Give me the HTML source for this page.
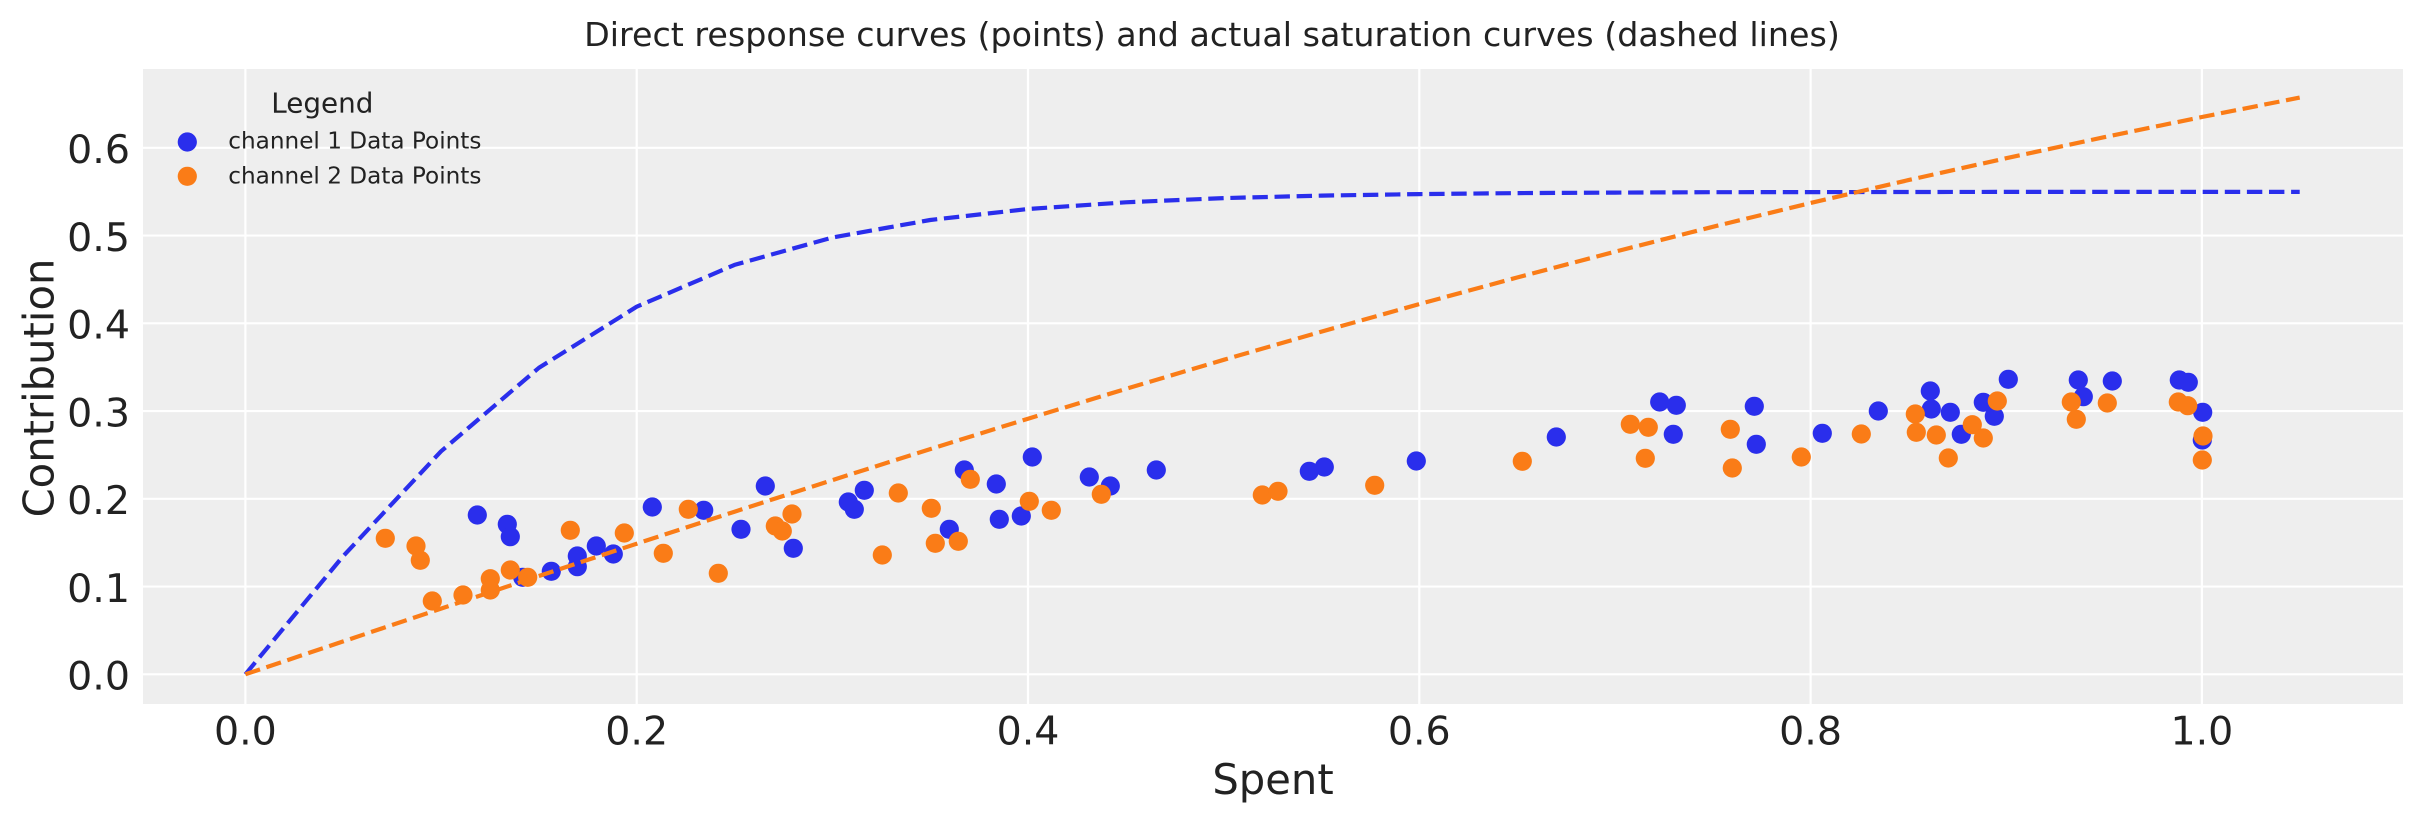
<!DOCTYPE html>
<html>
<head>
<meta charset="utf-8">
<style>
  html, body { margin:0; padding:0; background:#ffffff; }
  body { width:2423px; height:823px; overflow:hidden; }
  svg { display:block; }
  text { font-family: "DejaVu Sans", "Liberation Sans", sans-serif; fill:#222222; }
</style>
</head>
<body>
<svg width="2423" height="823" viewBox="0 0 2423 823" xmlns="http://www.w3.org/2000/svg">
  <rect x="0" y="0" width="2423" height="823" fill="#ffffff"/>
  <!-- axes background -->
  <rect x="143" y="69" width="2260" height="635" fill="#eeeeee"/>
  <!-- grid -->
  <g stroke="#ffffff" stroke-width="2.2">
    <line x1="245.4" y1="69" x2="245.4" y2="704"/>
    <line x1="636.7" y1="69" x2="636.7" y2="704"/>
    <line x1="1028.0" y1="69" x2="1028.0" y2="704"/>
    <line x1="1419.3" y1="69" x2="1419.3" y2="704"/>
    <line x1="1810.6" y1="69" x2="1810.6" y2="704"/>
    <line x1="2201.9" y1="69" x2="2201.9" y2="704"/>
    <line x1="143" y1="674.3" x2="2403" y2="674.3"/>
    <line x1="143" y1="586.55" x2="2403" y2="586.55"/>
    <line x1="143" y1="498.8" x2="2403" y2="498.8"/>
    <line x1="143" y1="411.05" x2="2403" y2="411.05"/>
    <line x1="143" y1="323.3" x2="2403" y2="323.3"/>
    <line x1="143" y1="235.55" x2="2403" y2="235.55"/>
    <line x1="143" y1="147.8" x2="2403" y2="147.8"/>
  </g>

  <!-- channel 1 scatter -->
  <g fill="#2a2eec">
    <circle cx="477.3" cy="515" r="9.6"/><circle cx="507.3" cy="524.3" r="9.6"/><circle cx="510.3" cy="536.7" r="9.6"/>
    <circle cx="522.7" cy="577.3" r="9.6"/><circle cx="551.3" cy="571.3" r="9.6"/><circle cx="577.3" cy="556" r="9.6"/>
    <circle cx="577.3" cy="566.7" r="9.6"/><circle cx="596.3" cy="546" r="9.6"/><circle cx="613.3" cy="554" r="9.6"/>
    <circle cx="652.3" cy="507" r="9.6"/><circle cx="703.7" cy="510.3" r="9.6"/><circle cx="741" cy="529.3" r="9.6"/>
    <circle cx="765.3" cy="486" r="9.6"/><circle cx="793.3" cy="548.3" r="9.6"/><circle cx="848.3" cy="502" r="9.6"/>
    <circle cx="854.3" cy="509.3" r="9.6"/><circle cx="864.3" cy="490.3" r="9.6"/><circle cx="964.3" cy="470" r="9.6"/>
    <circle cx="949.3" cy="529.3" r="9.6"/><circle cx="996.3" cy="484" r="9.6"/><circle cx="999.3" cy="519.3" r="9.6"/>
    <circle cx="1021.3" cy="516" r="9.6"/><circle cx="1032.3" cy="457" r="9.6"/><circle cx="1089.3" cy="477" r="9.6"/>
    <circle cx="1110.3" cy="486" r="9.6"/><circle cx="1156.3" cy="470" r="9.6"/>
    <circle cx="1309.3" cy="471.3" r="9.6"/><circle cx="1324.3" cy="467" r="9.6"/><circle cx="1416.3" cy="461" r="9.6"/>
    <circle cx="1556.3" cy="437" r="9.6"/><circle cx="1659.7" cy="402" r="9.6"/><circle cx="1676.3" cy="405.3" r="9.6"/>
    <circle cx="1673.3" cy="434.3" r="9.6"/><circle cx="1754.3" cy="406.3" r="9.6"/><circle cx="1756.3" cy="444.3" r="9.6"/>
    <circle cx="1822.3" cy="433.3" r="9.6"/><circle cx="1878.3" cy="411" r="9.6"/><circle cx="1930.3" cy="391" r="9.6"/>
    <circle cx="1931.3" cy="409" r="9.6"/><circle cx="1950.3" cy="412.3" r="9.6"/><circle cx="1961.3" cy="434.3" r="9.6"/>
    <circle cx="1983.3" cy="402.3" r="9.6"/><circle cx="1994.3" cy="416.3" r="9.6"/><circle cx="2008.3" cy="379.3" r="9.6"/>
    <circle cx="2078.3" cy="380" r="9.6"/><circle cx="2083.3" cy="396.7" r="9.6"/><circle cx="2112.3" cy="381" r="9.6"/>
    <circle cx="2179.3" cy="380" r="9.6"/><circle cx="2188.3" cy="382.3" r="9.6"/><circle cx="2202.7" cy="412.3" r="9.6"/>
    <circle cx="2202.3" cy="440" r="9.6"/>
  </g>

  <!-- channel 1 curve -->
  <polyline fill="none" stroke="#2a2eec" stroke-width="4.2" stroke-dasharray="15.4 6.7" stroke-linejoin="round"
    points="245.4,674.3 343.2,556.1 441.05,451.3 538.9,367.8 636.7,306.7 734.5,264.9 832.4,237.5 930.2,220.0 1028.0,209.0 1125.8,202.3 1223.7,198.1 1321.5,195.6 1419.3,194.1 1517.1,193.1 1615.0,192.6 1712.8,192.2 1810.6,192.1 1908.4,192.0 2006.3,191.9 2104.1,191.9 2201.9,191.9 2299.7,191.9"/>

  <!-- channel 2 scatter -->
  <g fill="#fa7c17">
    <circle cx="385.3" cy="538.3" r="9.6"/><circle cx="416" cy="546" r="9.6"/><circle cx="420.3" cy="560.3" r="9.6"/>
    <circle cx="432.3" cy="601" r="9.6"/><circle cx="463" cy="595" r="9.6"/><circle cx="490.3" cy="578.7" r="9.6"/>
    <circle cx="490.3" cy="590" r="9.6"/><circle cx="510.3" cy="570" r="9.6"/><circle cx="527.7" cy="577.3" r="9.6"/>
    <circle cx="570.3" cy="530.3" r="9.6"/><circle cx="624.3" cy="533" r="9.6"/><circle cx="663.3" cy="553.3" r="9.6"/>
    <circle cx="688.3" cy="509.3" r="9.6"/><circle cx="718.3" cy="573.3" r="9.6"/>
    <circle cx="775.3" cy="526" r="9.6"/><circle cx="782.3" cy="531" r="9.6"/><circle cx="792" cy="514" r="9.6"/>
    <circle cx="882.3" cy="555" r="9.6"/><circle cx="898.3" cy="493" r="9.6"/><circle cx="931.3" cy="508.3" r="9.6"/>
    <circle cx="935.3" cy="543.3" r="9.6"/><circle cx="958.3" cy="541.3" r="9.6"/><circle cx="970.3" cy="479.3" r="9.6"/>
    <circle cx="1029.3" cy="501.3" r="9.6"/><circle cx="1051.3" cy="510.3" r="9.6"/><circle cx="1101.3" cy="494.3" r="9.6"/>
    <circle cx="1262.3" cy="495" r="9.6"/>
    <circle cx="1278" cy="491.3" r="9.6"/><circle cx="1374.7" cy="485.3" r="9.6"/><circle cx="1522.3" cy="461.3" r="9.6"/>
    <circle cx="1630.3" cy="424.3" r="9.6"/><circle cx="1648.3" cy="427.3" r="9.6"/><circle cx="1645.3" cy="458.3" r="9.6"/>
    <circle cx="1730.3" cy="429.3" r="9.6"/><circle cx="1732.3" cy="468" r="9.6"/>
    <circle cx="1801.3" cy="457" r="9.6"/><circle cx="1861.3" cy="434" r="9.6"/><circle cx="1915.3" cy="414" r="9.6"/>
    <circle cx="1916.3" cy="432.3" r="9.6"/><circle cx="1936.3" cy="435" r="9.6"/><circle cx="1948.3" cy="458" r="9.6"/>
    <circle cx="1972.3" cy="424.7" r="9.6"/><circle cx="1983.3" cy="438" r="9.6"/><circle cx="1997.3" cy="401" r="9.6"/>
    <circle cx="2071.3" cy="402" r="9.6"/><circle cx="2076.3" cy="419.3" r="9.6"/><circle cx="2107.3" cy="403" r="9.6"/>
    <circle cx="2178.3" cy="402" r="9.6"/><circle cx="2187.7" cy="405.7" r="9.6"/><circle cx="2203" cy="436" r="9.6"/>
    <circle cx="2202.3" cy="460" r="9.6"/>
  </g>

  <!-- channel 2 curve -->
  <polyline fill="none" stroke="#fa7c17" stroke-width="4.2" stroke-dasharray="15.4 6.7" stroke-linejoin="round"
    points="245.4,674.3 343.2,641.4 441.05,608.6 538.9,576.0 636.7,543.7 734.5,511.7 832.4,480.1 930.2,449.1 1028.0,418.7 1125.8,388.9 1223.7,359.8 1321.5,331.6 1419.3,304.1 1517.1,277.5 1615.0,251.7 1712.8,226.8 1810.6,203.0 1908.4,180.1 2006.3,158.2 2104.1,137.2 2201.9,117.0 2299.7,97.6"/>

  <!-- y tick labels -->
  <g font-size="39.5" text-anchor="end">
    <text x="130" y="689.5">0.0</text>
    <text x="130" y="601.8">0.1</text>
    <text x="130" y="514.0">0.2</text>
    <text x="130" y="426.3">0.3</text>
    <text x="130" y="338.5">0.4</text>
    <text x="130" y="250.8">0.5</text>
    <text x="130" y="163.0">0.6</text>
  </g>
  <!-- x tick labels -->
  <g font-size="39.5" text-anchor="middle">
    <text x="245.4" y="744.3">0.0</text>
    <text x="636.7" y="744.3">0.2</text>
    <text x="1028.0" y="744.3">0.4</text>
    <text x="1419.3" y="744.3">0.6</text>
    <text x="1810.6" y="744.3">0.8</text>
    <text x="2201.9" y="744.3">1.0</text>
  </g>

  <!-- axis labels -->
  <text x="1273" y="794" font-size="41.7" text-anchor="middle">Spent</text>
  <text transform="translate(53.3,388) rotate(-90)" font-size="41.7" text-anchor="middle">Contribution</text>

  <!-- title -->
  <text x="1212" y="46" font-size="33.3" text-anchor="middle">Direct response curves (points) and actual saturation curves (dashed lines)</text>

  <!-- legend -->
  <text x="322.3" y="112.3" font-size="27.8" text-anchor="middle">Legend</text>
  <circle cx="187.3" cy="142" r="9.6" fill="#2a2eec"/>
  <circle cx="187.3" cy="176.3" r="9.6" fill="#fa7c17"/>
  <text x="228.3" y="148.3" font-size="23.15">channel 1 Data Points</text>
  <text x="228.3" y="183.3" font-size="23.15">channel 2 Data Points</text>
</svg>
</body>
</html>
